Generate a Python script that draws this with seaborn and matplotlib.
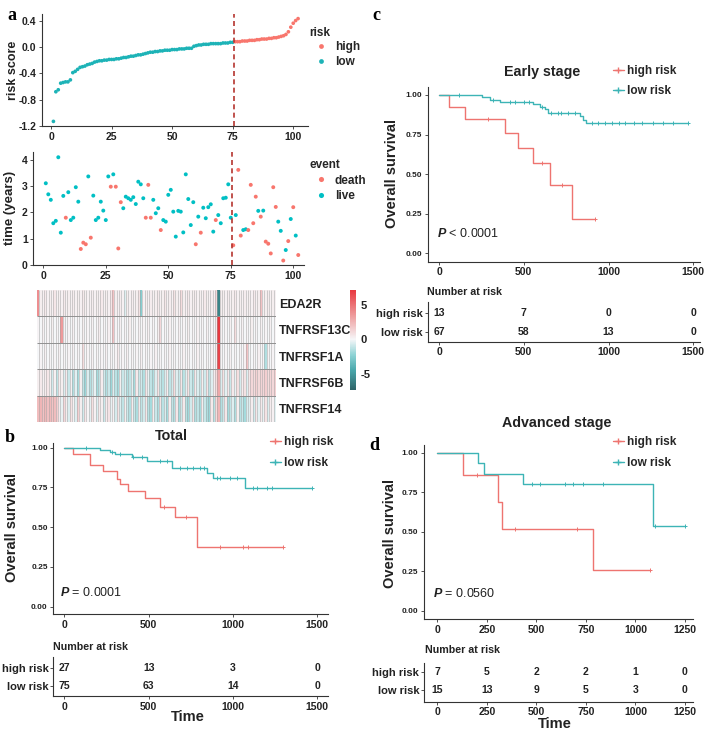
import numpy as np
import pandas as pd
import matplotlib
matplotlib.use("Agg")
import matplotlib.pyplot as plt
from matplotlib.colors import LinearSegmentedColormap
from matplotlib.lines import Line2D
import seaborn as sns

W, H = 713, 734

# ---------------- panel a data ----------------
n_low, n_high = 75, 27
risk_score = [
    -1.13, -0.68, -0.65, -0.55, -0.54, -0.53, -0.53, -0.50, -0.39, -0.37,
    -0.34, -0.31, -0.30, -0.29, -0.27, -0.26, -0.25, -0.23, -0.22, -0.21,
    -0.21, -0.20, -0.20, -0.19, -0.19, -0.19, -0.18, -0.18, -0.17, -0.16,
    -0.16, -0.15, -0.14, -0.14, -0.13, -0.12, -0.12, -0.11, -0.10, -0.09,
    -0.08, -0.08, -0.07, -0.07, -0.06, -0.06, -0.05, -0.05, -0.05, -0.04,
    -0.04, -0.04, -0.03, -0.03, -0.03, -0.02, -0.02, -0.02, 0.01, 0.02,
    0.03, 0.03, 0.04, 0.04, 0.04, 0.05, 0.05, 0.05, 0.05, 0.05,
    0.06, 0.06, 0.06, 0.07, 0.07,
    0.08, 0.08, 0.08, 0.09, 0.09, 0.09, 0.10, 0.10, 0.10, 0.11,
    0.11, 0.12, 0.12, 0.12, 0.13, 0.13, 0.14, 0.14, 0.15, 0.16,
    0.17, 0.19, 0.23, 0.30, 0.36, 0.40, 0.43]

surv_years = [
    3.11, 2.69, 2.48, 1.59, 1.68, 4.10, 1.23, 2.63, 1.80, 2.77,
    1.71, 1.80, 2.96, 2.41, 0.61, 0.85, 0.79, 3.37, 1.04, 2.64,
    1.71, 1.80, 2.41, 2.07, 1.71, 3.37, 2.98, 3.45, 2.98, 0.63,
    2.39, 2.16, 2.60, 2.54, 2.48, 2.58, 2.32, 3.17, 3.07, 2.54,
    1.80, 3.05, 1.80, 2.48, 1.97, 2.16, 1.33, 1.71, 1.65, 2.67,
    2.86, 2.03, 1.08, 2.06, 2.03, 1.24, 3.45, 2.51, 1.52, 2.39,
    0.79, 1.84, 1.23, 2.18, 1.78, 2.20, 2.31, 1.27, 1.71, 1.90,
    1.59, 2.54, 2.56, 3.07, 1.80,
    0.75, 1.90, 3.62, 1.12, 1.33, 1.36, 1.33, 3.05, 1.59, 2.60,
    2.06, 1.84, 2.07, 0.89, 0.81, 0.44, 2.96, 2.21, 1.65, 1.30,
    0.17, 0.57, 0.91, 1.75, 2.20, 1.12, 0.38]

# 1 = death, 0 = live
dead = [
    0, 0, 0, 0, 0, 0, 0, 0, 1, 0,
    0, 0, 0, 0, 1, 1, 1, 0, 1, 0,
    0, 0, 0, 0, 0, 0, 1, 0, 1, 1,
    1, 0, 0, 0, 0, 0, 0, 0, 0, 0,
    1, 1, 1, 0, 0, 0, 1, 0, 0, 0,
    0, 0, 0, 0, 0, 0, 0, 0, 0, 0,
    1, 0, 1, 0, 0, 0, 0, 0, 1, 0,
    0, 0, 0, 0, 0,
    1, 0, 1, 1, 0, 0, 1, 1, 1, 1,
    0, 1, 0, 1, 1, 1, 1, 1, 0, 0,
    1, 0, 1, 0, 1, 0, 1]

genes = ["EDA2R", "TNFRSF13C", "TNFRSF1A", "TNFRSF6B", "TNFRSF14"]
expr_eda2r = [
    4.0, 0.3, 0.2, 0.5, 0.2, 0.3, 0.2, 0.6, 0.2, 0.3,
    0.2, 0.5, 0.2, 0.3, 0.2, 0.4, 0.2, 0.3, 0.2, 0.5,
    0.3, 0.2, 0.2, 0.4, 0.2, 0.3, 0.2, 0.5, 0.2, 0.3,
    0.2, 0.6, 2.0, 0.3, 0.2, 0.4, 0.2, -0.5, 0.3, 0.2,
    0.4, 0.2, 0.3, 0.8, -2.5, 0.2, 0.3, 0.2, 0.4, 0.2,
    0.3, 0.5, 0.2, 0.3, 0.6, 0.2, 0.4, 0.2, 0.8, 0.3,
    0.2, 1.0, 0.3, 0.2, 0.5, 0.2, 0.3, 0.4, 0.2, 0.3,
    0.2, 0.5, 0.3, 0.2, 0.4, 0.2, 1.2, -6.0, 0.3, 0.3,
    0.2, 0.4, 0.2, 0.3, 0.5, 0.2, 0.3, 0.2, 0.4, 0.2,
    0.3, 0.2, 0.5, 0.2, 0.3, 2.0, 0.2, 0.3, 0.4, 0.2,
    0.3, 0.2]
expr_tnfrsf13c = [
    0.1, 0.0, 0.2, 0.0, 0.1, 0.0, 0.3, 0.0, 0.1, 0.0,
    3.5, 0.2, 0.0, 0.1, 0.0, 0.2, 0.0, 0.1, 0.0, 0.3,
    0.0, 0.1, 0.0, 0.2, 0.0, 0.1, 0.4, 0.0, 0.1, 0.0,
    0.2, 0.0, 2.0, 0.1, 0.0, 0.2, 0.0, 0.1, 0.0, 0.3,
    0.0, 0.1, 0.0, 0.2, 0.0, 0.1, 0.0, 0.2, 0.0, 0.1,
    0.0, 0.3, 1.2, 0.0, 0.1, 0.0, 0.2, 0.0, 0.1, 0.0,
    0.2, 0.0, 0.1, 0.0, 0.3, 0.0, 0.1, 0.0, 0.2, 0.0,
    0.1, 0.0, 0.2, 0.0, 0.1, 0.0, 0.5, 7.2, 0.2, 0.0,
    0.1, 0.0, 0.2, 0.0, 1.0, 0.1, 0.0, 0.2, 0.0, 0.1,
    0.0, 0.3, 0.0, 0.1, 0.0, 0.2, 0.0, 0.1, 0.0, 0.2,
    0.0, 0.1]
expr_tnfrsf1a = [
    0.0, 0.1, 0.0, 0.2, 0.0, 0.1, 0.0, 0.1, 0.0, 0.2,
    0.0, 0.1, 0.0, 0.1, 0.0, 0.2, 0.0, 0.1, 0.0, 1.0,
    0.0, 0.1, 0.0, 0.2, 0.0, 0.1, 0.0, 0.1, 0.0, 0.2,
    0.0, 0.1, 0.0, 0.1, 0.5, 0.0, 0.1, 0.0, 0.2, 0.0,
    0.1, 0.0, 0.1, 0.0, 0.2, 0.0, 0.1, 0.0, 0.1, 0.0,
    0.2, 0.0, 0.1, 0.0, 0.1, 0.0, 0.2, 0.0, 0.1, 0.0,
    0.1, 0.0, 0.2, 0.0, 0.1, 0.0, 0.1, 0.0, 0.2, 0.0,
    0.1, 0.0, 0.1, 0.0, 0.2, 0.0, 0.3, 6.8, 0.1, 0.0,
    0.1, 0.0, 0.2, 0.0, 0.1, 0.0, 0.1, 0.0, 0.2, 2.0,
    0.1, 0.0, 0.1, 0.0, 0.2, 0.0, 0.1, -1.5, 0.1, 0.0,
    0.1, 0.0]
expr_tnfrsf6b = [
    0.3, 0.5, 0.2, 0.4, 0.6, 0.3, -0.8, 0.2, -1.2, 0.4,
    0.3, -0.6, 0.5, -1.0, 0.2, -1.5, -0.4, -1.8, 0.3, -1.2,
    -2.0, -0.6, -1.5, -1.0, -0.3, -1.8, -1.2, 0.4, -0.8, -1.5,
    -1.0, -2.0, -0.5, -1.3, -1.8, 0.3, -1.0, -0.6, -1.5, -1.2,
    -0.4, -1.8, 0.5, -1.0, -0.8, -1.5, 0.6, -0.3, -1.2, -1.6,
    -0.5, 0.8, -1.0, -1.4, -0.6, 0.4, -1.2, -0.8, 1.0, -0.5,
    -1.0, 0.6, -1.3, -0.4, 0.8, -0.9, -1.5, 0.5, -0.6, -1.1,
    0.3, -0.8, 0.7, -1.2, -0.5, 0.4, 1.0, 3.0, -0.6, 0.8,
    -0.4, 0.6, -1.0, 0.5, -0.3, 0.9, -0.7, 0.4, 0.8, -0.5,
    0.6, 1.2, 1.0, 1.4, 1.1, 1.3, 1.2, 1.5, 1.0, 1.3,
    1.2, 1.4]
expr_tnfrsf14 = [
    2.2, 2.5, 2.0, 2.4, 2.1, 2.3, 1.9, 2.2, 1.5, 0.5,
    -0.3, 1.2, 0.4, -0.6, 0.8, 0.2, -0.5, 1.5, 0.3, -0.8,
    0.6, 0.1, -0.4, 0.9, 0.2, -0.6, 0.5, 0.3, -0.9, 0.4,
    0.7, -0.3, 0.2, -0.7, 0.8, -0.5, -1.2, 0.3, -0.9, -1.5,
    0.4, -1.0, -1.6, 0.5, -1.2, -0.8, 0.6, -1.4, -1.8, 0.3,
    -1.0, -1.6, 0.8, -1.3, -0.6, -1.8, 0.4, -1.2, -1.5, 0.6,
    -1.7, -1.0, 0.5, -1.4, -1.9, -0.8, 0.7, -1.5, -1.2, -1.8,
    0.4, -1.0, -1.6, -2.0, 0.5, -1.3, 1.0, 2.5, -1.5, -1.0,
    0.6, -1.8, -1.2, -0.5, -1.6, 0.3, -1.4, -1.0, -1.8, -0.6,
    -0.5, 0.4, -0.8, 0.6, -0.4, 0.5, -0.3, 0.8, -0.6, 0.4,
    0.2, -0.4]

# ---------------- Kaplan-Meier data ----------------
# Total
b_high_t = [49, 152, 231, 310, 330, 379, 478, 567, 656, 785]
b_high_s = [0.963, 0.889, 0.852, 0.806, 0.769, 0.731, 0.685, 0.630, 0.567, 0.378]
b_high_cens = [590, 720, 925, 1060, 1090, 1298]
b_low_t = [211, 271, 300, 399, 488, 636, 844, 883, 1071]
b_low_s = [0.987, 0.973, 0.959, 0.944, 0.918, 0.872, 0.840, 0.810, 0.748]
b_low_cens = [128, 281, 330, 409, 458, 567, 607, 686, 725, 765, 804, 828,
              903, 923, 982, 1026, 1120, 1140, 1200, 1229, 1466]
b_breaks = [0, 500, 1000, 1500]
b_risk_high = [27, 13, 3, 0]
b_risk_low = [75, 63, 14, 0]

# Early stage
c_high_t = [61, 153, 389, 468, 556, 654, 782]
c_high_s = [0.923, 0.846, 0.762, 0.667, 0.571, 0.429, 0.214]
c_high_cens = [291, 605, 723, 919]
c_low_t = [251, 300, 360, 556, 595, 625, 644, 831, 851, 870]
c_low_s = [0.985, 0.970, 0.955, 0.940, 0.925, 0.910, 0.885, 0.865, 0.840, 0.820]
c_low_cens = [120, 320, 420, 450, 500, 530, 610, 660, 700, 720, 760, 800,
              900, 940, 980, 1020, 1060, 1100, 1150, 1200, 1260, 1320, 1380, 1470]
c_breaks = [0, 500, 1000, 1500]
c_risk_high = [13, 7, 0, 0]
c_risk_low = [67, 58, 13, 0]

# Advanced stage
d_high_t = [128, 308, 325, 788]
d_high_s = [0.857, 0.686, 0.514, 0.257]
d_high_cens = [199, 392, 704, 1074]
d_low_t = [207, 236, 434, 1087]
d_low_s = [0.933, 0.867, 0.800, 0.533]
d_low_cens = [476, 518, 645, 687, 737, 838, 1099, 1250]
d_breaks = [0, 250, 500, 750, 1000, 1250]
d_risk_high = [7, 5, 2, 2, 1, 0]
d_risk_low = [15, 13, 9, 5, 3, 0]

RED = "#F8766D"
TEAL = "#00BFC4"
HIGH = "#EE7470"
LOW = "#3DB4B6"
INK = "#222222"

sns.set_theme(style="ticks")
plt.rcParams["font.family"] = ["Liberation Sans", "DejaVu Sans"]
plt.rcParams["font.weight"] = "bold"
plt.rcParams["axes.unicode_minus"] = False
plt.rcParams["mathtext.fontset"] = "custom"
plt.rcParams["mathtext.it"] = "Liberation Sans:italic"
plt.rcParams["mathtext.rm"] = "Liberation Sans"


def px_axes(fig, x0, y0, x1, y1):
    return fig.add_axes([x0 / W, 1 - y1 / H, (x1 - x0) / W, (y1 - y0) / H])


def style_axis(ax):
    sns.despine(ax=ax)
    for s in ("left", "bottom"):
        ax.spines[s].set_color("#333333")
        ax.spines[s].set_linewidth(0.8)
    ax.tick_params(length=2.5, width=0.6, color="#333333", labelcolor=INK, pad=1.5)
    ax.set_xlabel("")
    ax.set_ylabel("")


def fig_text(fig, x, y, s, **kw):
    return fig.text(x / W, 1 - y / H, s, **kw)


def km_curve(ax, times, surv, cens, color):
    xs = [0] + list(times) + [max(cens)]
    ys = [1.0] + list(surv) + [surv[-1]]
    sns.lineplot(x=xs, y=ys, drawstyle="steps-post", color=color, lw=1.0,
                 estimator=None, sort=False, ax=ax)
    steps = np.array(times)
    cy = [1.0 if c < steps[0] else surv[np.searchsorted(steps, c, side="right") - 1]
          for c in cens]
    sns.scatterplot(x=cens, y=cy, marker="+", s=10, color=color, linewidth=0.7, ax=ax)


def km_panel(fig, main_px, tab_px, xlim, ylim, tab_ylim, breaks, high, low,
             risk_high, risk_low, leg_xy):
    ax = px_axes(fig, *main_px)
    km_curve(ax, *high, HIGH)
    km_curve(ax, *low, LOW)
    ax.set_xlim(xlim)
    ax.set_ylim(ylim)
    ax.set_xticks(breaks)
    ax.set_yticks([0, 0.25, 0.5, 0.75, 1.0])
    ax.set_yticklabels(["0.00", "0.25", "0.50", "0.75", "1.00"])
    style_axis(ax)
    ax.tick_params(axis="x", labelsize=7.5)
    ax.tick_params(axis="y", labelsize=6)
    handles = [Line2D([], [], color=HIGH, lw=1, marker="+", ms=4),
               Line2D([], [], color=LOW, lw=1, marker="+", ms=4)]
    ax.legend(handles, ["high risk", "low risk"], loc="upper left",
              bbox_to_anchor=(leg_xy[0] / W, 1 - leg_xy[1] / H),
              bbox_transform=fig.transFigure, frameon=False, borderpad=0,
              borderaxespad=0, handlelength=0.9, handletextpad=0.25,
              labelspacing=0.72, prop={"size": 8.5, "weight": "bold"})

    tab = px_axes(fig, *tab_px)
    for row, nums in ((2, risk_high), (1, risk_low)):
        for b, n in zip(breaks, nums):
            tab.text(b, row, str(n), ha="center", va="center", fontsize=7.5,
                     weight="bold", color=INK)
    tab.set_xlim(xlim)
    tab.set_ylim(tab_ylim)
    tab.set_xticks(breaks)
    tab.set_yticks([2, 1])
    tab.set_yticklabels(["high risk", "low risk"])
    style_axis(tab)
    tab.tick_params(axis="x", labelsize=7.5)
    tab.tick_params(axis="y", labelsize=8, length=2)
    return ax, tab


fig = plt.figure(figsize=(W / 100, H / 100), dpi=100)

# ---- a: risk score ----
idx = np.arange(1, len(risk_score) + 1)
risk_df = pd.DataFrame({"idx": idx, "score": risk_score,
                        "risk": ["low"] * n_low + ["high"] * n_high})
ax1 = px_axes(fig, 41.7, 14, 308, 126)
sns.scatterplot(data=risk_df, x="idx", y="score", hue="risk", hue_order=["high", "low"],
                palette=[RED, "#1DB3B7"], s=7, linewidth=0, ax=ax1)
ax1.axvline(n_low + 0.5, color="#B5352F", lw=1.2, ls=(0, (3, 2)))
ax1.set_xlim(-3.84, 106.1)
ax1.set_ylim(-1.2, 0.5)
ax1.set_xticks([0, 25, 50, 75, 100])
ax1.set_yticks([-1.2, -0.8, -0.4, 0.0, 0.4])
ax1.set_yticklabels(["-1.2", "-0.8", "-0.4", "0.0", "0.4"])
style_axis(ax1)
ax1.tick_params(labelsize=7.5)
fig_text(fig, 13, 70, "risk score", rotation=90, ha="center", va="center",
         fontsize=9, weight="bold", color=INK)
sns.move_legend(ax1, "upper left", bbox_to_anchor=(309 / W, 1 - 27 / H),
                bbox_transform=fig.transFigure, frameon=False, borderpad=0,
                borderaxespad=0, title="risk", markerscale=1.3,
                handletextpad=0.2, labelspacing=0.2, fontsize=8.5, title_fontsize=8.5)
ax1.get_legend()._legend_box.align = "left"

# ---- a: survival time ----
time_df = pd.DataFrame({"idx": idx, "time": surv_years,
                        "event": ["death" if d else "live" for d in dead]})
ax2 = px_axes(fig, 33.3, 152, 304, 265)
sns.scatterplot(data=time_df, x="idx", y="time", hue="event", hue_order=["death", "live"],
                palette=[RED, TEAL], s=8, linewidth=0, ax=ax2)
ax2.axvline(n_low + 0.5, color="#B5352F", lw=1.2, ls=(0, (3, 2)))
ax2.set_xlim(-4, 104.3)
ax2.set_ylim(0, 4.3)
ax2.set_xticks([0, 25, 50, 75, 100])
ax2.set_yticks([0, 1, 2, 3, 4])
style_axis(ax2)
ax2.tick_params(labelsize=7.5)
fig_text(fig, 10, 208, "time (years)", rotation=90, ha="center", va="center",
         fontsize=9.5, weight="bold", color=INK)
sns.move_legend(ax2, "upper left", bbox_to_anchor=(309 / W, 1 - 159 / H),
                bbox_transform=fig.transFigure, frameon=False, borderpad=0,
                borderaxespad=0, title="event", markerscale=1.3,
                handletextpad=0.2, labelspacing=0.3, fontsize=8.5, title_fontsize=8.5)
ax2.get_legend()._legend_box.align = "left"

# ---- a: heatmap ----
expr = pd.DataFrame([expr_eda2r, expr_tnfrsf13c, expr_tnfrsf1a, expr_tnfrsf6b,
                     expr_tnfrsf14], index=genes)
cmap = LinearSegmentedColormap.from_list(
    "heat", [(0.0, "#2E6468"), (0.2, "#4AA8AC"), (0.35, "#8ED3D5"),
             (0.507, "#F6F6F8"), (0.75, "#EE9A9B"), (1.0, "#E8383F")])
ax3 = px_axes(fig, 37, 290, 276, 422)
cax = px_axes(fig, 350, 290, 356, 390)
sns.heatmap(expr, cmap=cmap, vmin=-7.4, vmax=7.2, linewidths=0,
            xticklabels=False, ax=ax3, cbar_ax=cax, cbar_kws={"ticks": [-5, 0, 5]})
# thin grey cell borders like pheatmap
ax3.vlines(np.arange(1, expr.shape[1]), 0, len(genes), color="#a0a0a0", lw=0.4, alpha=0.85)
ax3.hlines(np.arange(1, len(genes)), 0, expr.shape[1], color="#909090", lw=0.7)
ax3.yaxis.tick_right()
ax3.tick_params(axis="y", length=0, labelsize=9, pad=2, labelcolor=INK)
ax3.set_yticklabels(genes, rotation=0, weight="bold")
ax3.set_xlabel("")
cax.tick_params(length=0, labelsize=8, pad=3, labelcolor=INK)
cax.set_yticklabels(["-5", "0", "5"])
ax3.collections[0].colorbar.outline.set_visible(False)

# ---- b: Total ----
km_panel(fig, (53.3, 443, 328, 614), (53.3, 656.7, 328, 696), (-65.2, 1563),
         (-0.046, 1.03), (0.454, 2.6), b_breaks,
         (b_high_t, b_high_s, b_high_cens), (b_low_t, b_low_s, b_low_cens),
         b_risk_high, b_risk_low, (270, 436.5))
fig_text(fig, 171.7, 436, "Total", ha="center", va="center", fontsize=10.3, weight="bold", color=INK)
fig_text(fig, 60, 593, "$P$ = 0.0001", ha="left", va="center", fontsize=9, weight="normal", color=INK)
fig_text(fig, 12, 527, "Overall survival", rotation=90, ha="center", va="center",
         fontsize=10.5, weight="bold", color=INK)
fig_text(fig, 53, 646.7, "Number at risk", ha="left", va="center", fontsize=7.7, weight="bold", color=INK)
fig_text(fig, 188, 716.7, "Time", ha="center", va="center", fontsize=10.5, weight="bold", color=INK)

# ---- c: Early stage ----
km_panel(fig, (427.7, 86.7, 700, 261.7), (427.7, 301.7, 700, 341.7), (-66.7, 1539.5),
         (-0.053, 1.052), (0.457, 2.63), c_breaks,
         (c_high_t, c_high_s, c_high_cens), (c_low_t, c_low_s, c_low_cens),
         c_risk_high, c_risk_low, (613, 65))
fig_text(fig, 541.7, 71.7, "Early stage", ha="center", va="center", fontsize=10.3, weight="bold", color=INK)
fig_text(fig, 436.7, 233.3, "$P$ < 0.0001", ha="left", va="center", fontsize=9, weight="normal", color=INK)
fig_text(fig, 391.7, 173, "Overall survival", rotation=90, ha="center", va="center",
         fontsize=10.5, weight="bold", color=INK)
fig_text(fig, 426.7, 292.3, "Number at risk", ha="left", va="center", fontsize=7.7, weight="bold", color=INK)

# ---- d: Advanced stage ----
km_panel(fig, (424, 445, 693.3, 619.3), (424, 663.3, 693.3, 701.7), (-67.1, 1291.9),
         (-0.0544, 1.0487), (0.36, 2.46), d_breaks,
         (d_high_t, d_high_s, d_high_cens), (d_low_t, d_low_s, d_low_cens),
         d_risk_high, d_risk_low, (613, 436.5))
fig_text(fig, 556.7, 422.7, "Advanced stage", ha="center", va="center", fontsize=10.3, weight="bold", color=INK)
fig_text(fig, 432.7, 593.3, "$P$ = 0.0560", ha="left", va="center", fontsize=9, weight="normal", color=INK)
fig_text(fig, 390, 533, "Overall survival", rotation=90, ha="center", va="center",
         fontsize=10.5, weight="bold", color=INK)
fig_text(fig, 425, 650, "Number at risk", ha="left", va="center", fontsize=7.7, weight="bold", color=INK)
fig_text(fig, 555, 724, "Time", ha="center", va="center", fontsize=10.5, weight="bold", color=INK)

# panel letters
for letter, x, y in (("a", 12, 15), ("b", 10, 437), ("c", 376, 15), ("d", 374, 445)):
    fig_text(fig, x, y, letter, ha="center", va="center", fontsize=13,
             family="Liberation Serif", weight="bold", color="black")

fig.savefig("out.png", dpi=100)
